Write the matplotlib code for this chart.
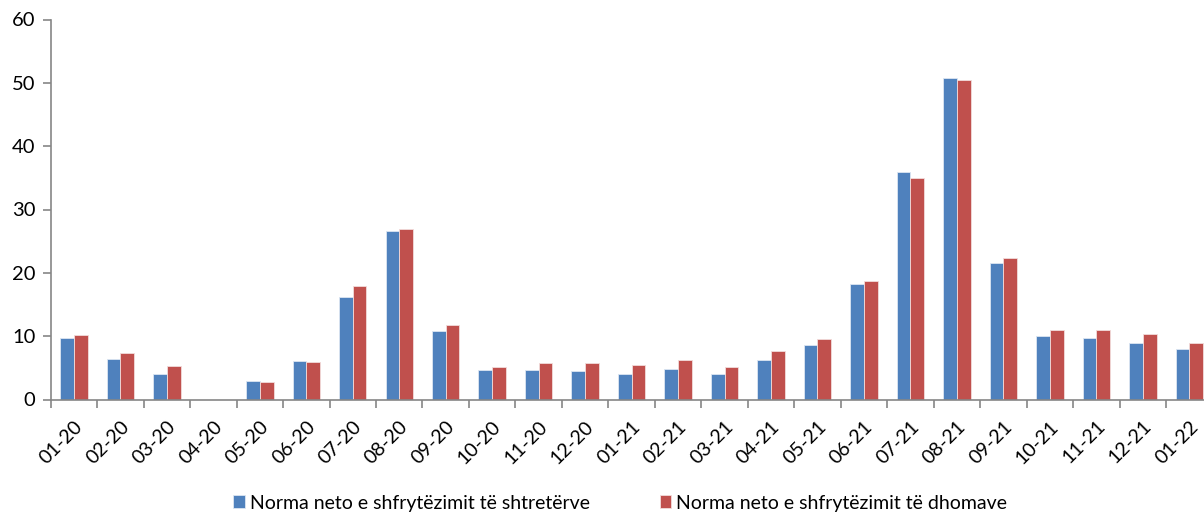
import matplotlib
matplotlib.use("Agg")
import matplotlib.pyplot as plt
import numpy as np

categories = ["01-20", "02-20", "03-20", "04-20", "05-20", "06-20", "07-20", "08-20",
              "09-20", "10-20", "11-20", "12-20", "01-21", "02-21", "03-21", "04-21",
              "05-21", "06-21", "07-21", "08-21", "09-21", "10-21", "11-21", "12-21", "01-22"]
beds = [9.7, 6.4, 4.1, 0.0, 3.0, 6.1, 16.2, 26.6, 10.8, 4.7, 4.7, 4.5, 4.1, 4.8, 4.0,
        6.2, 8.6, 18.2, 35.9, 50.8, 21.6, 10.0, 9.7, 9.0, 7.9]
rooms = [10.2, 7.3, 5.3, 0.0, 2.8, 5.9, 17.9, 26.9, 11.8, 5.1, 5.7, 5.8, 5.4, 6.2, 5.2,
         7.7, 9.6, 18.7, 35.0, 50.5, 22.4, 11.0, 10.9, 10.3, 8.9]
series_names = ["Norma neto e shfrytëzimit të shtretërve", "Norma neto e shfrytëzimit të dhomave"]
yticks = [0, 10, 20, 30, 40, 50, 60]

plt.rcParams['font.family'] = ['Lato', 'DejaVu Sans']

W, H = 1204, 515
fig = plt.figure(figsize=(W / 100, H / 100), dpi=100)
left_px, right_px, top_px, bot_px = 50.7, 1212.5, 19.5, 399.5
ax = fig.add_axes([left_px / W, 1 - bot_px / H, (right_px - left_px) / W, (bot_px - top_px) / H])

x = np.arange(len(categories))
bw = 0.295
ax.bar(x - bw / 2, beds, bw, color="#4F81BD", edgecolor="#DCE6F2", linewidth=0.6, label=series_names[0])
ax.bar(x + bw / 2, rooms, bw, color="#C0504D", edgecolor="#F2DCDB", linewidth=0.6, label=series_names[1])

ax.set_xlim(-0.5, len(categories) - 0.5)
ax.set_ylim(0, 60)
ax.set_yticks(yticks)
ax.set_yticklabels([str(v) for v in yticks], fontsize=14.5)

ax.set_xticks(np.arange(len(categories) + 1) - 0.5)
ax.set_xticklabels([])
ax.set_xticks(x, minor=True)
ax.set_xticklabels(categories, minor=True, rotation=45, ha="right", va="top",
                   rotation_mode="anchor", fontsize=14)
ax.tick_params(axis="x", which="major", direction="out", length=6, color="#868686", width=1.2)
ax.tick_params(axis="x", which="minor", length=0, pad=13)
ax.tick_params(axis="y", direction="out", length=6, color="#868686", width=1.2, pad=5)

for s in ["top", "right"]:
    ax.spines[s].set_visible(False)
for s in ["left", "bottom"]:
    ax.spines[s].set_color("#868686")
    ax.spines[s].set_linewidth(1.2)

fig.legend(loc="center", bbox_to_anchor=(0.515, 1 - 503 / H), ncol=2, frameon=False,
           fontsize=14, handlelength=0.6, handleheight=0.6, handletextpad=0.25,
           columnspacing=3.6)

fig.savefig("out.png", dpi=100)
